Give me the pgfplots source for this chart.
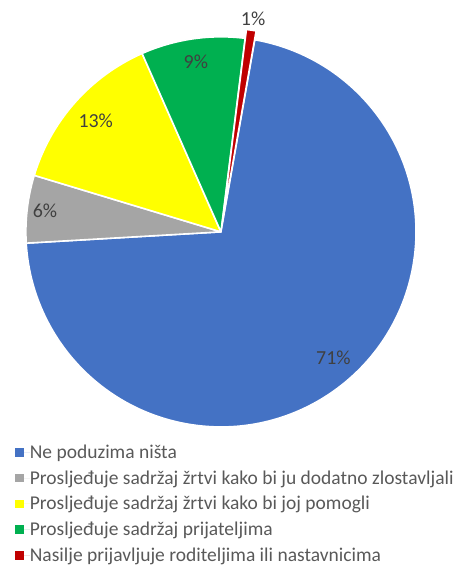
\documentclass[border=0pt]{standalone}
\usepackage{pgfplots}
\pgfplotsset{compat=1.18}
\usepackage{fontspec}
\setmainfont{Carlito}
\definecolor{cBlue}{HTML}{4472C4}
\definecolor{cGray}{HTML}{A5A5A5}
\definecolor{cYellow}{HTML}{FFFF00}
\definecolor{cGreen}{HTML}{00B050}
\definecolor{cRed}{HTML}{C00000}
\definecolor{labtext}{HTML}{404040}
\definecolor{legtext}{HTML}{595959}
% values (percent)
\def\vA{71.3}\def\vB{5.6}\def\vC{13.7}\def\vD{8.6}\def\vE{0.8}
\newcommand\slice[7]{% #1 cumulative start, #2 value, #3 colour, #4 label, #5 label radius, #6 explode, #7 centre
  \pgfmathsetmacro\sa{80-3.6*#1}%
  \pgfmathsetmacro\sb{\sa-3.6*#2}%
  \pgfmathsetmacro\sm{(\sa+\sb)/2}%
  \begin{scope}[shift={#7}]
    \fill[#3,draw=white,line width=1.6pt,line join=round] (\sm:#6pt) -- ++(\sa:196pt) arc[start angle=\sa,end angle=\sb,radius=196pt] -- cycle;
    \node[text=labtext,font=\fontsize{20}{22}\selectfont\upshape,inner sep=0pt] at (\sm:#5pt) {#4};
  \end{scope}}
\begin{document}
\begin{tikzpicture}
\begin{axis}[width=458pt,height=565pt,scale only axis,
  xmin=0,xmax=458,ymin=0,ymax=565,hide axis,clip=false,
  legend style={at={(axis cs:15,120)},anchor=north west,draw=none,fill=none,
    inner sep=0pt,outer sep=0pt,row sep=6.8pt,
    font=\fontsize{19.6}{22}\selectfont,text=legtext,
    nodes={inner xsep=0pt}},
  legend cell align=left,
  legend image code/.code={\fill[#1] (0pt,-4.3pt) rectangle (9pt,4.3pt);\path (0pt,0pt) -- (15pt,0pt);}]
\addlegendimage{fill=cBlue,draw=none}
\addlegendentry{Ne poduzima ništa}
\addlegendimage{fill=cGray,draw=none}
\addlegendentry{Prosljeđuje sadržaj žrtvi kako bi ju dodatno zlostavljali}
\addlegendimage{fill=cYellow,draw=none}
\addlegendentry{Prosljeđuje sadržaj žrtvi kako bi joj pomogli}
\addlegendimage{fill=cGreen,draw=none}
\addlegendentry{Prosljeđuje sadržaj prijateljima}
\addlegendimage{fill=cRed,draw=none}
\addlegendentry{Nasilje prijavljuje roditeljima ili nastavnicima}
\pgfplotsextra{%
  \path (axis cs:0,0) rectangle (axis cs:458,565);
  \slice{0}{\vA}{cBlue}{71\%}{170}{0}{(axis cs:222,332)}
  \slice{\vA}{\vB}{cGray}{6\%}{178}{0}{(axis cs:222,332)}
  \pgfmathsetmacro\cC{\vA+\vB}%
  \slice{\cC}{\vC}{cYellow}{13\%}{168}{0}{(axis cs:222,332)}
  \pgfmathsetmacro\cD{\vA+\vB+\vC}%
  \slice{\cD}{\vD}{cGreen}{9\%}{173}{0}{(axis cs:222,332)}
  \pgfmathsetmacro\cE{\vA+\vB+\vC+\vD}%
  \slice{\cE}{\vE}{cRed}{1\%}{217}{9}{(axis cs:222,332)}
}
\end{axis}
\end{tikzpicture}
\end{document}
